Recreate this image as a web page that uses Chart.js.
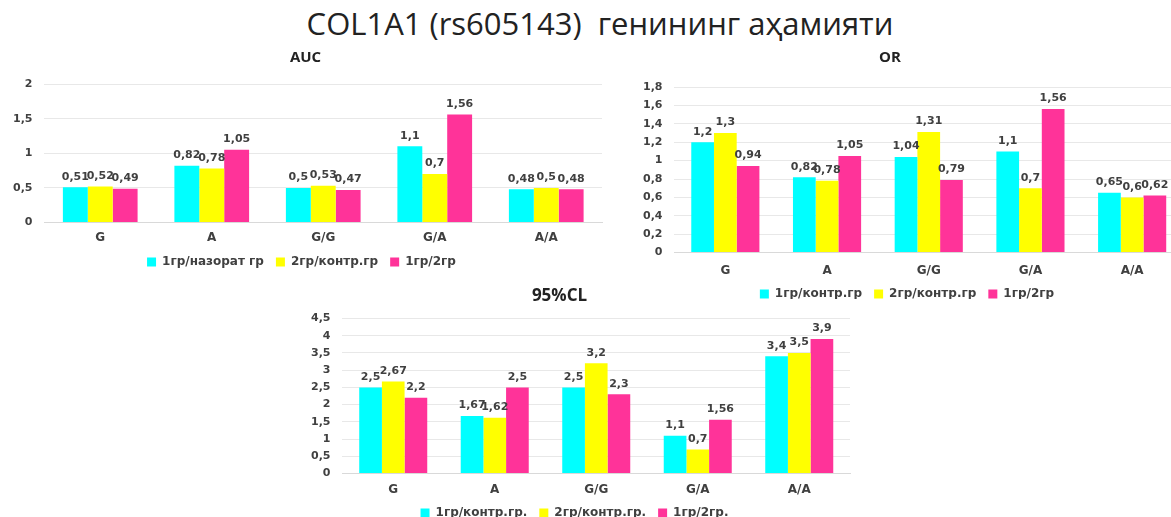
<!DOCTYPE html>
<html>
<head>
<meta charset="utf-8">
<script src="https://cdn.jsdelivr.net/npm/chart.js@4.4.0/dist/chart.umd.min.js"></script>
<style>
  body { margin: 0; background: #fff; width: 1171px; height: 517px; overflow: hidden; position: relative; font-family: "Open Sans", sans-serif; }
  #mainTitle { position: absolute; left: 0; top: 2px; width: 1200px; text-align: center; font-size: 31px; color: #222; }
  canvas { position: absolute; }
  #aucChart { left: 0; top: 45px; }
  #orChart { left: 620px; top: 45px; }
  #clChart { left: 295px; top: 282px; }
</style>
</head>
<body>
<div id="mainTitle">COL1A1 (rs605143)&nbsp; генининг аҳамияти</div>
<canvas id="aucChart" width="624" height="236"></canvas>
<canvas id="orChart" width="596" height="267"></canvas>
<canvas id="clChart" width="590" height="249"></canvas>
<script>
var categories = ['G', 'A', 'G/G', 'G/A', 'A/A'];

// AUC
var aucLabels = ['1гр/назорат гр', '2гр/контр.гр', '1гр/2гр'];
var auc1 = [0.51, 0.82, 0.5, 1.1, 0.48];
var auc2 = [0.52, 0.78, 0.53, 0.7, 0.5];
var auc3 = [0.49, 1.05, 0.47, 1.56, 0.48];

// OR
var orLabels = ['1гр/контр.гр', '2гр/контр.гр', '1гр/2гр'];
var or1 = [1.2, 0.82, 1.04, 1.1, 0.65];
var or2 = [1.3, 0.78, 1.31, 0.7, 0.6];
var or3 = [0.94, 1.05, 0.79, 1.56, 0.62];

// 95%CL
var clLabels = ['1гр/контр.гр.', '2гр/контр.гр.', '1гр/2гр.'];
var cl1 = [2.5, 1.67, 2.5, 1.1, 3.4];
var cl2 = [2.67, 1.62, 3.2, 0.7, 3.5];
var cl3 = [2.2, 2.5, 2.3, 1.56, 3.9];

var colors = ['#00FFFF', '#FFFF00', '#FF3399'];
var titleFont = '"Open Sans", sans-serif';
var font = '"DejaVu Sans", sans-serif';

function comma(v) {
  return String(Math.round(v * 100) / 100).replace('.', ',');
}

// values above the bars
var valueLabels = {
  id: 'valueLabels',
  afterDatasetsDraw: function(chart) {
    var ctx = chart.ctx;
    ctx.save();
    ctx.font = 'bold 11px ' + font;
    ctx.fillStyle = '#404040';
    ctx.textAlign = 'center';
    ctx.textBaseline = 'bottom';
    chart.data.datasets.forEach(function(ds, i) {
      chart.getDatasetMeta(i).data.forEach(function(bar, j) {
        ctx.fillText(comma(ds.data[j]), bar.x, bar.y - 5);
      });
    });
    ctx.restore();
  }
};

// trim legend height, lift legend items toward the axis, nudge the title sideways
var nudge = {
  id: 'nudge',
  beforeLayout: function(chart, args, opts) {
    var lg = chart.legend;
    if (!lg || lg._trimmed) return;
    var fit = lg.fit;
    lg.fit = function() { fit.call(this); this.height -= opts.trim || 0; };
    lg._trimmed = true;
  },
  afterLayout: function(chart, args, opts) {
    var lg = chart.legend, tb = chart.titleBlock;
    if (lg) { lg.top -= opts.lift || 0; lg.bottom -= opts.lift || 0; }
    if (tb) { tb.left += opts.dx || 0; tb.right += opts.dx || 0; }
  }
};

function makeChart(id, title, titleSize, titleGap, xPad, shift, names, series, max, step, pad) {
  var ctx = document.getElementById(id).getContext('2d');
  return new Chart(ctx, {
    type: 'bar',
    data: {
      labels: categories,
      datasets: series.map(function(d, i) {
        return {
          label: names[i],
          data: d,
          backgroundColor: colors[i],
          borderWidth: 0,
          categoryPercentage: 0.67,
          barPercentage: 1.0
        };
      })
    },
    options: {
      responsive: false,
      animation: false,
      layout: { padding: pad },
      plugins: {
        title: {
          display: true,
          text: title,
          color: '#222',
          font: { family: titleFont, size: titleSize, weight: 'bold' },
          padding: { top: 4, bottom: titleGap }
        },
        legend: {
          position: 'bottom',
          labels: {
            boxWidth: 9,
            boxHeight: 9,
            padding: 12,
            color: '#404040',
            font: { family: font, size: 12, weight: 'bold' }
          }
        },
        nudge: shift,
        tooltip: { enabled: false }
      },
      scales: {
        x: {
          grid: { display: false, drawTicks: false },
          border: { color: '#d9d9d9' },
          ticks: { color: '#404040', font: { family: font, size: 12, weight: 'bold' }, padding: xPad }
        },
        y: {
          min: 0,
          max: max,
          border: { display: false },
          grid: { color: '#e8e8e8', drawTicks: false },
          ticks: {
            stepSize: step,
            autoSkip: false,
            padding: 12,
            color: '#404040',
            font: { family: font, size: 11, weight: 'bold' },
            callback: function(v) { return comma(v); }
          }
        }
      }
    },
    plugins: [valueLabels, nudge]
  });
}

makeChart('aucChart', 'AUC', 15, 17, 8, { trim: 6, lift: 9, dx: 4 }, aucLabels, [auc1, auc2, auc3], 2, 0.5, { left: 1, right: 22, top: 0, bottom: 0 });
makeChart('orChart', 'OR', 15, 20, 11, { trim: 11, lift: 13, dx: -17 }, orLabels, [or1, or2, or3], 1.8, 0.2, { left: 11, right: 33, top: 0, bottom: 0 });
makeChart('clChart', '95%CL', 17, 12, 9, { trim: 9, lift: 11, dx: -15 }, clLabels, [cl1, cl2, cl3], 4.5, 0.5, { left: 4, right: 35, top: 0, bottom: 0 });
</script>
</body>
</html>
